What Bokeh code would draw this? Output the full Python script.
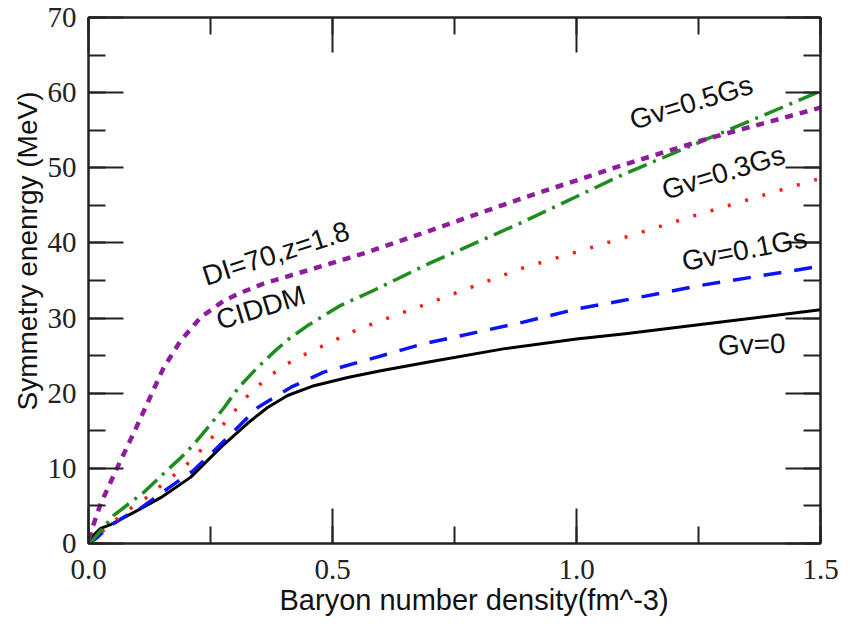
import math
from bokeh.plotting import figure
from bokeh.models import Range1d, LinearAxis, Label, Title, SingleIntervalTicker, CustomJSTickFormatter
from bokeh.embed import file_html
from bokeh.resources import INLINE

# ---- data ----
black_x = [0.0, 0.01, 0.025, 0.045, 0.092, 0.148, 0.209, 0.271, 0.326, 0.367, 0.408, 0.462, 0.531, 0.599, 0.7, 0.85, 1.0, 1.1, 1.25, 1.5]
black_y = [0.0, 1.1, 2.0, 2.5, 4.1, 6.1, 8.8, 12.8, 16.0, 18.1, 19.7, 21.0, 22.1, 23.0, 24.2, 25.9, 27.2, 27.9, 29.1, 31.1]

blue_x = [0.0, 0.018, 0.04, 0.072, 0.107, 0.162, 0.215, 0.285, 0.347, 0.415, 0.482, 0.552, 0.613, 0.681, 0.887, 1.0, 1.092, 1.25, 1.5]
blue_y = [0.0, 0.8, 2.2, 3.5, 4.7, 7.3, 9.7, 14.1, 18.1, 20.8, 22.8, 24.1, 25.2, 26.5, 29.4, 31.2, 32.3, 34.3, 36.9]

red_x = [0.0, 0.01, 0.045, 0.08, 0.121, 0.154, 0.195, 0.23, 0.264, 0.295, 0.328, 0.367, 0.404, 0.441, 0.48, 0.552, 0.626, 0.702, 0.887, 1.01, 1.077, 1.25, 1.5]
red_y = [0.0, 0.5, 2.6, 4.4, 6.2, 8.0, 10.1, 12.4, 14.9, 17.3, 19.8, 22.1, 23.8, 25.1, 26.3, 28.5, 30.3, 32.1, 36.6, 39.0, 40.3, 43.8, 48.6]

green_x = [0.0, 0.008, 0.051, 0.113, 0.162, 0.189, 0.213, 0.244, 0.277, 0.308, 0.343, 0.38, 0.41, 0.449, 0.517, 0.585, 0.661, 0.696, 0.887, 1.092, 1.27, 1.5]
green_y = [0.0, 0.4, 3.7, 6.8, 9.8, 11.4, 13.0, 15.4, 18.0, 20.8, 23.2, 25.5, 27.2, 29.0, 31.7, 33.7, 36.1, 37.2, 42.7, 49.0, 53.9, 60.2]

purple_x = [0.0, 0.008, 0.025, 0.059, 0.092, 0.123, 0.154, 0.189, 0.23, 0.277, 0.306, 0.359, 0.462, 0.564, 0.667, 0.887, 1.092, 1.27, 1.5]
purple_y = [0.5, 2.1, 5.3, 10.1, 14.6, 19.0, 23.4, 27.0, 30.1, 32.3, 33.2, 34.6, 36.6, 38.6, 40.9, 45.9, 50.3, 53.9, 58.0]

x_label = "Baryon number density(fm^-3)"
y_label = "Symmetry enenrgy (MeV)"

# curve annotations: text, x, y, angle (deg)
notes_text = ["Gv=0.5Gs", "Gv=0.3Gs", "Gv=0.1Gs", "Gv=0", "DI=70,z=1.8", "CIDDM"]
notes_x = [1.235, 1.301, 1.344, 1.359, 0.384, 0.353]
notes_y = [58.7, 49.4, 39.1, 26.5, 38.6, 31.4]
notes_angle = [17, 17, 11, 2, 18, 17]

AX = "#222222"
SANS = "Liberation Sans"
SERIF = "Liberation Serif"

p = figure(width=850, height=630, output_backend="svg", toolbar_location=None,
           x_range=Range1d(0, 1.5), y_range=Range1d(0, 70),
           min_border_left=88, min_border_right=30, min_border_top=17, min_border_bottom=87,
           x_axis_location=None, y_axis_location=None)
p.grid.visible = False
p.outline_line_color = AX
p.outline_line_width = 2
p.background_fill_color = "white"
p.border_fill_color = "white"

def style_axis(ax, ticker_interval, show_labels):
    ax.ticker = SingleIntervalTicker(interval=ticker_interval, num_minor_ticks=2)
    ax.axis_line_color = AX
    ax.axis_line_width = 2
    ax.major_tick_in = 35
    ax.major_tick_out = 0
    ax.minor_tick_in = 17
    ax.minor_tick_out = 0
    ax.major_tick_line_color = AX
    ax.major_tick_line_width = 2
    ax.minor_tick_line_color = AX
    ax.minor_tick_line_width = 2
    if show_labels:
        ax.major_label_text_font = SERIF
        ax.major_label_text_font_size = "29px"
        ax.major_label_text_color = AX
    else:
        ax.formatter = CustomJSTickFormatter(code="return ''")
        ax.major_label_standoff = 0

xb = LinearAxis()
style_axis(xb, 0.5, True)
xb.formatter = CustomJSTickFormatter(code="return tick.toFixed(1)")
xb.major_label_standoff = 16
p.add_layout(xb, "below")

yl = LinearAxis()
style_axis(yl, 10, True)
yl.major_label_standoff = 12
p.add_layout(yl, "left")

xt = LinearAxis()
style_axis(xt, 0.5, False)
p.add_layout(xt, "above")

yr = LinearAxis()
style_axis(yr, 10, False)
p.add_layout(yr, "right")

# axis titles positioned as in the reference
p.add_layout(Title(text=x_label, align="left", offset=191, standoff=0,
                   text_font=SANS, text_font_size="29px", text_font_style="normal",
                   text_color="#111111"), "below")
p.add_layout(Title(text=y_label, align="left", offset=133, standoff=4,
                   text_font=SANS, text_font_size="28px", text_font_style="normal",
                   text_color="#111111"), "left")

# curves
p.line(black_x, black_y, line_color="black", line_width=3, line_join="round")
p.line(blue_x, blue_y, line_color="#0a14f5", line_width=3.5, line_dash="18 13")
p.line(red_x, red_y, line_color="#ff1a1a", line_width=3.5, line_dash="3 15")
p.line(green_x, green_y, line_color="#1e8c1e", line_width=3.5, line_dash="20 7 3 7")
p.line(purple_x, purple_y, line_color="#8e1d9e", line_width=4.5, line_dash="8 7")

for t, x, y, a in zip(notes_text, notes_x, notes_y, notes_angle):
    p.add_layout(Label(x=x, y=y, text=t, angle=math.radians(a), text_align="center",
                       text_baseline="middle", text_font=SANS, text_font_size="28px",
                       text_color="#111111"))

open("out.html", "w").write(file_html(p, INLINE))
